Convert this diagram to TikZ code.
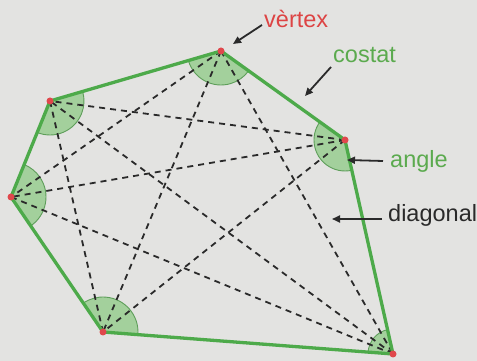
\documentclass[tikz,border=0pt]{standalone}
\usepackage{fontspec}
\setmainfont{Liberation Sans}
\usetikzlibrary{angles,arrows.meta}
\definecolor{bg}{HTML}{E3E3E1}
\definecolor{edgegreen}{HTML}{4DAA4A}
\definecolor{sectorfill}{HTML}{A3D09C}
\definecolor{sectorline}{HTML}{5E9E5A}
\definecolor{vred}{HTML}{E0484C}
\definecolor{lblred}{HTML}{DD4444}
\definecolor{lblgreen}{HTML}{5BAA4E}
\definecolor{ink}{HTML}{2A2A2A}
\tikzset{
  sector/.style={draw=sectorline, line width=0.9pt, fill=sectorfill, angle radius=#1},
  side/.style={edgegreen, line width=3.3pt, line join=round},
  diag/.style={ink, line width=1.8pt, dash pattern=on 6pt off 5pt},
  vdot/.style={circle, fill=vred, inner sep=0pt, minimum size=7pt},
  lbl/.style={anchor=base west, inner sep=0pt, font=\fontsize{23.5}{23.5}\selectfont},
  pointer/.style={ink, line width=1.8pt, -{Triangle[length=8pt,width=7pt]}}
}
\begin{document}
\begin{tikzpicture}[x=1pt,y=1pt]
\fill[bg] (0,0) rectangle (477,361);
\useasboundingbox (0,0) rectangle (477,361);
\coordinate (A) at (221,310);
\coordinate (B) at (345,221);
\coordinate (C) at (393,7);
\coordinate (D) at (103,29);
\coordinate (E) at (11,164);
\coordinate (F) at (50,260);
% angle sectors
\pic[sector=34] {angle=F--A--B};
\pic[sector=31] {angle=A--B--C};
\pic[sector=25] {angle=B--C--D};
\pic[sector=35] {angle=C--D--E};
\pic[sector=35] {angle=D--E--F};
\pic[sector=34] {angle=E--F--A};
% diagonals
\draw[diag] (A) -- (C);
\draw[diag] (A) -- (D);
\draw[diag] (A) -- (E);
\draw[diag] (B) -- (D);
\draw[diag] (B) -- (E);
\draw[diag] (B) -- (F);
\draw[diag] (C) -- (E);
\draw[diag] (C) -- (F);
\draw[diag] (D) -- (F);
% sides
\draw[side] (A) -- (B) -- (C) -- (D) -- (E) -- (F) -- cycle;
% vertices
\foreach \v in {A,B,C,D,E,F} \node[vdot] (dot\v) at (\v) {};
% labels
\node[lbl, text=lblred] (tvertex) at (264,333) {vèrtex};
\node[lbl, text=lblgreen] (tcostat) at (333,298) {costat};
\node[lbl, text=lblgreen] (tangle) at (390,193) {angle};
\node[lbl, text=ink] (tdiag) at (388,139) {diagonal};
% pointers
\coordinate (pv1) at (262,336); \coordinate (pv2) at (233,317);
\coordinate (pc1) at (331,294); \coordinate (pc2) at (305,265);
\coordinate (pa1) at (383,200); \coordinate (pa2) at (347,201);
\coordinate (pd1) at (382,142); \coordinate (pd2) at (332,142);
\draw[pointer] (pv1) -- (pv2);
\draw[pointer] (pc1) -- (pc2);
\draw[pointer] (pa1) -- (pa2);
\draw[pointer] (pd1) -- (pd2);
\end{tikzpicture}
\end{document}
